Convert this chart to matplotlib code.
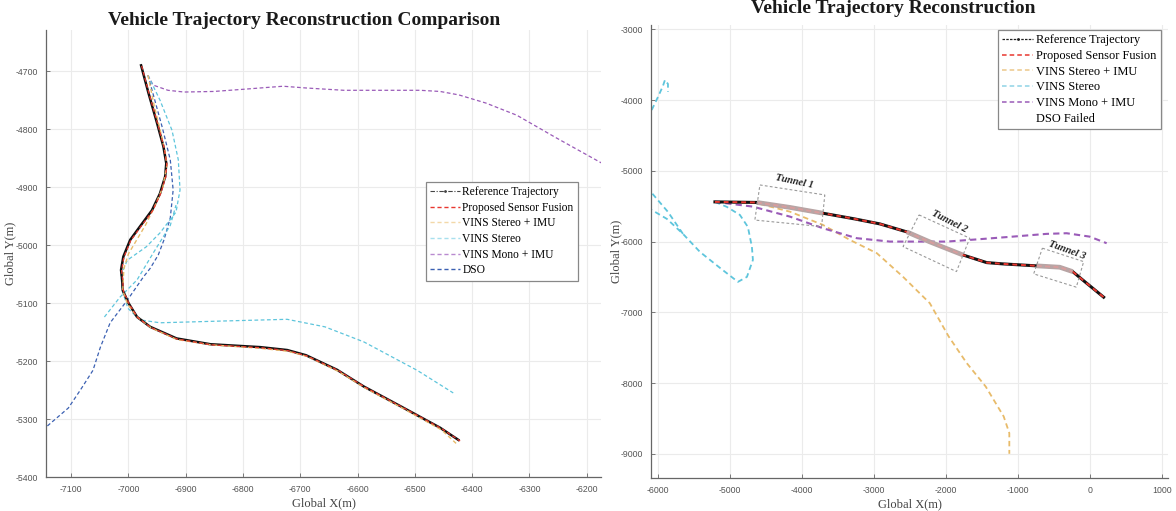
import numpy as np
import matplotlib
matplotlib.use("Agg")
import matplotlib.pyplot as plt
from matplotlib.patches import Polygon
from matplotlib.lines import Line2D

plt.rcParams["axes.unicode_minus"] = False

# ---------------- LEFT PANEL DATA ----------------
L_ref_x = [-6978, -6965, -6950, -6939, -6934, -6936, -6945, -6959, -6980, -6997, -7009, -7013,
           -7011, -7010, -7000, -6985, -6962, -6916, -6857, -6770, -6723, -6690, -6636, -6589,
           -6523, -6456, -6424]
L_ref_y = [-4690, -4738, -4790, -4830, -4859, -4882, -4911, -4940, -4968, -4991, -5020, -5043,
           -5060, -5078, -5100, -5124, -5141, -5161, -5171, -5176, -5181, -5190, -5215, -5244,
           -5279, -5315, -5336]
L_fus_x = [-6977, -6964, -6949, -6938, -6933, -6935, -6944, -6958, -6979, -6996, -7008, -7012,
           -7010, -7009, -6999, -6984, -6961, -6915, -6856, -6769, -6722, -6689, -6634, -6587,
           -6521, -6454, -6421]
L_fus_y = [-4691, -4739, -4791, -4831, -4860, -4883, -4912, -4941, -4969, -4992, -5021, -5044,
           -5061, -5079, -5101, -5125, -5142, -5162, -5172, -5177, -5182, -5191, -5216, -5245,
           -5280, -5316, -5338]
L_vsi_x = [-6966, -6955, -6945, -6936, -6933, -6940, -6955, -6970, -6985, -7000, -7008, -7010,
           -7002, -6984, -6960, -6915, -6856, -6770, -6722, -6688, -6633, -6586, -6520, -6453, -6428]
L_vsi_y = [-4707, -4760, -4800, -4840, -4862, -4900, -4935, -4965, -4990, -5015, -5040, -5078,
           -5101, -5125, -5143, -5163, -5172, -5178, -5183, -5192, -5218, -5247, -5282, -5319, -5342]
L_vs_x = [-6966, -6945, -6924, -6913, -6910, -6917, -6945, -6969, -7002, -7013, -7011, -7001,
          -6980, -6945, -6837, -6723, -6657, -6589, -6496, -6433,
          np.nan, -7042, -7015, -6985, -6957, -6927, -6917]
L_vs_y = [-4707, -4750, -4802, -4853, -4905, -4943, -4979, -5003, -5026, -5052, -5078, -5109,
          -5129, -5134, -5131, -5128, -5141, -5167, -5216, -5255,
          np.nan, -5124, -5090, -5060, -5014, -4966, -4931]
L_vm_x = [-6966, -6957, -6931, -6903, -6851, -6796, -6770, -6730, -6690, -6624, -6556, -6491,
          -6456, -6423, -6376, -6322, -6255, -6173]
L_vm_y = [-4707, -4724, -4733, -4736, -4735, -4731, -4729, -4726, -4729, -4733, -4733, -4733,
          -4735, -4741, -4755, -4776, -4814, -4859]
L_dso_x = [-6966, -6941, -6927, -6922, -6927, -6938, -6948, -6962, -6974, -7002, -7032, -7049,
           -7062, -7084, -7105, -7144]
L_dso_y = [-4707, -4797, -4853, -4905, -4953, -4991, -5017, -5040, -5055, -5095, -5134, -5176,
           -5216, -5250, -5281, -5314]

L_xticks = [-7100, -7000, -6900, -6800, -6700, -6600, -6500, -6400, -6300, -6200]
L_yticks = [-5400, -5300, -5200, -5100, -5000, -4900, -4800, -4700]

# ---------------- RIGHT PANEL DATA ----------------
R_ref_x = [-5205, -4623, -4165, -3707, -3264, -2917, -2542, -2223, -1766, -1433, -1211, -739,
           -420, -240, -46, 190]
R_ref_y = [-5438, -5446, -5516, -5598, -5679, -5749, -5862, -6003, -6187, -6296, -6314, -6342,
           -6361, -6423, -6587, -6784]
R_vsi_x = [-5205, -4623, -4165, -3707, -3333, -2958, -2598, -2223, -1960, -1710, -1447, -1197,
           -1119, -1119]
R_vsi_y = [-5438, -5457, -5576, -5763, -5975, -6163, -6493, -6869, -7341, -7716, -8047, -8470,
           -8705, -8997]
R_vs_x = [-5205, -5039, -4859, -4748, -4692, -4678, -4761, -4886, -5136, -5413, -5649, -5871, -6083,
          np.nan, -5649, -5857, -6083,
          np.nan, -6083, -5996, -5927, -5899, -5857, -5857]
R_vs_y = [-5438, -5509, -5622, -5792, -6074, -6258, -6498, -6568, -6370, -6145, -5890, -5679, -5552,
          np.nan, -5890, -5580, -5311,
          np.nan, -4140, -3956, -3801, -3716, -3772, -3885]
R_vm_x = [-5205, -4678, -4165, -3707, -3236, -2778, -2321, -1988, -1530, -1072, -601, -323, -4, 232]
R_vm_y = [-5438, -5505, -5646, -5810, -5951, -5999, -5999, -5999, -5965, -5929, -5890, -5881,
          -5929, -6022]

R_xticks = [-6000, -5000, -4000, -3000, -2000, -1000, 0, 1000]
R_yticks = [-9000, -8000, -7000, -6000, -5000, -4000, -3000]

tunnel_names = ["Tunnel 1", "Tunnel 2", "Tunnel 3"]
tunnel_xrange = [(-4630, -3700), (-2550, -1710), (-745, -140)]
tunnel_box_x = [[-4581, -3680, -3725, -4651], [-2372, -1668, -1853, -2594], [-660, -87, -189, -781]]
tunnel_box_y = [[-5199, -5340, -5787, -5695], [-5622, -5951, -6423, -6070], [-6092, -6282, -6643, -6455]]
tunnel_label_x = [-4096, -1946, -323]
tunnel_label_y = [-5156, -5715, -6116]
tunnel_label_rot = [-12, -27, -20]

labels_left = ["Reference Trajectory", "Proposed Sensor Fusion", "VINS Stereo + IMU",
               "VINS Stereo", "VINS Mono + IMU", "DSO"]
labels_right = ["Reference Trajectory", "Proposed Sensor Fusion", "VINS Stereo + IMU",
                "VINS Stereo", "VINS Mono + IMU", "DSO Failed"]

C_RED = "#e8372f"
C_YEL = "#e8bb6a"
C_CYA = "#5ec5dc"
C_PUR = "#9a5bb8"
C_DSO = "#3b60b2"

SERIF = ["Liberation Serif", "DejaVu Serif"]
SANS = ["Liberation Sans", "DejaVu Sans"]

fig = plt.figure(figsize=(11.76, 5.11), dpi=100)
W, H = 1176, 511


def style_axes(ax, xt, yt, xlim, ylim):
    ax.set_xlim(*xlim)
    ax.set_ylim(*ylim)
    ax.set_xticks(xt)
    ax.set_yticks(yt)
    ax.grid(True, color="#ebebeb", lw=0.8)
    ax.set_axisbelow(True)
    for s in ["top", "right"]:
        ax.spines[s].set_visible(False)
    for s in ["left", "bottom"]:
        ax.spines[s].set_color("#666666")
        ax.spines[s].set_linewidth(0.9)
    ax.tick_params(direction="in", length=3, width=0.6, color="#666666",
                   labelsize=6.3, labelcolor="#555555", pad=6)
    for lab in ax.get_xticklabels() + ax.get_yticklabels():
        lab.set_family(SANS)
    ax.set_xlabel("Global X(m)", family=SERIF, fontsize=9, color="#444444", labelpad=2)
    ax.set_ylabel("Global Y(m)", family=SERIF, fontsize=9, color="#444444", labelpad=-1)


# ---------------- LEFT ----------------
axL = fig.add_axes([46 / W, (H - 477) / H, (601 - 46) / W, (477 - 30) / H])
style_axes(axL, L_xticks, L_yticks, (-7144, -6175), (-5400, -4629))

axL.plot(L_dso_x, L_dso_y, ls=(0, (3, 2)), color=C_DSO, lw=0.9, zorder=2)
axL.plot(L_vm_x, L_vm_y, ls=(0, (3, 2)), color=C_PUR, lw=0.9, zorder=2)
axL.plot(L_vs_x, L_vs_y, ls=(0, (3, 2)), color=C_CYA, lw=0.9, zorder=2)
axL.plot(L_ref_x, L_ref_y, ls="-", color="#111111", lw=1.8, zorder=3)
axL.plot(L_vsi_x, L_vsi_y, ls=(0, (3, 2)), color=C_YEL, lw=1.0, zorder=4)
axL.plot(L_fus_x, L_fus_y, ls=(0, (3, 2)), color=C_RED, lw=0.9, zorder=5)

hL = [Line2D([], [], color="#444444", lw=0.8, ls=(0, (4, 1.5, 1, 1.5)), marker=".", markersize=2),
      Line2D([], [], color=C_RED, lw=1.0, ls=(0, (3, 2))),
      Line2D([], [], color="#f3d8a8", lw=1.0, ls=(0, (3, 2))),
      Line2D([], [], color="#a8e0ee", lw=1.0, ls=(0, (3, 2))),
      Line2D([], [], color="#b98ad0", lw=1.0, ls=(0, (3, 2))),
      Line2D([], [], color=C_DSO, lw=1.0, ls=(0, (3, 2)))]
legL = axL.legend(hL, labels_left, loc="upper left",
                  bbox_to_anchor=((426 - 46) / 555, (477 - 182) / 447),
                  prop={"family": SERIF, "size": 8.3}, frameon=True, fancybox=False,
                  edgecolor="#888888", framealpha=1, borderpad=0.35, labelspacing=0.32,
                  handlelength=2.6, handletextpad=0.2, borderaxespad=0)
legL.get_frame().set_linewidth(0.9)

fig.text(304 / W, (H - 25) / H, "Vehicle Trajectory Reconstruction Comparison",
         ha="center", va="baseline", family=SERIF, fontweight="bold", fontsize=14, color="#1a1a1a")

# ---------------- RIGHT ----------------
axR = fig.add_axes([651.4 / W, (H - 477.7) / H, (1167.6 - 651.4) / W, (477.7 - 25) / H])
style_axes(axR, R_xticks, R_yticks, (-6087, 1078), (-9335, -2939))

axR.plot(R_vs_x, R_vs_y, ls=(0, (3, 2)), color=C_CYA, lw=1.3, zorder=2)
axR.plot(R_vsi_x, R_vsi_y, ls=(0, (3, 2)), color=C_YEL, lw=1.3, zorder=2)
axR.plot(R_vm_x, R_vm_y, ls=(0, (3, 2)), color=C_PUR, lw=1.5, zorder=2)
axR.plot(R_ref_x, R_ref_y, ls="-", color="#111111", lw=2.2, zorder=3)
axR.plot(R_ref_x, R_ref_y, ls=(0, (2.5, 2)), color=C_RED, lw=1.4, zorder=4)

rx = np.array(R_ref_x, dtype=float)
ry = np.array(R_ref_y, dtype=float)
for (x0, x1) in tunnel_xrange:
    m = (rx >= x0) & (rx <= x1)
    axR.plot(rx[m], ry[m], color="#b8a5a5", lw=3.4, solid_capstyle="butt", zorder=5)
    axR.plot(rx[m], ry[m], color="#e49a9a", lw=1.2, ls=(0, (3, 2)), alpha=0.8, zorder=6)

for bx, by in zip(tunnel_box_x, tunnel_box_y):
    axR.add_patch(Polygon(np.column_stack([bx, by]), closed=True, fill=False,
                          edgecolor="#9a9a9a", lw=0.8, ls=(0, (2.5, 2)), zorder=7))
for name, tx, ty, rot in zip(tunnel_names, tunnel_label_x, tunnel_label_y, tunnel_label_rot):
    axR.text(tx, ty, name, rotation=rot, ha="center", va="center", family=SERIF,
             fontweight="bold", style="italic", fontsize=7.5, color="#222222",
             rotation_mode="anchor", zorder=8)

hR = [Line2D([], [], color="#222222", lw=0.9, ls=(0, (2, 1)), marker=".", markersize=2),
      Line2D([], [], color=C_RED, lw=1.1, ls=(0, (3, 2))),
      Line2D([], [], color="#ecc88a", lw=1.1, ls=(0, (3, 2))),
      Line2D([], [], color="#8fd3e6", lw=1.1, ls=(0, (3, 2))),
      Line2D([], [], color=C_PUR, lw=1.1, ls=(0, (3, 2))),
      Line2D([], [], color="none", lw=0)]
legR = axR.legend(hR, labels_right, loc="upper right",
                  bbox_to_anchor=((1160.5 - 651.4) / 516.2, (477.7 - 30) / 452.7),
                  prop={"family": SERIF, "size": 8.9}, frameon=True, fancybox=False,
                  edgecolor="#888888", framealpha=1, borderpad=0.35, labelspacing=0.3,
                  handlelength=2.5, handletextpad=0.2, borderaxespad=0)
legR.get_frame().set_linewidth(0.9)

fig.text(893 / W, (H - 13) / H, "Vehicle Trajectory Reconstruction",
         ha="center", va="baseline", family=SERIF, fontweight="bold", fontsize=14, color="#1a1a1a")

fig.savefig("out.png", dpi=100, facecolor="white")
